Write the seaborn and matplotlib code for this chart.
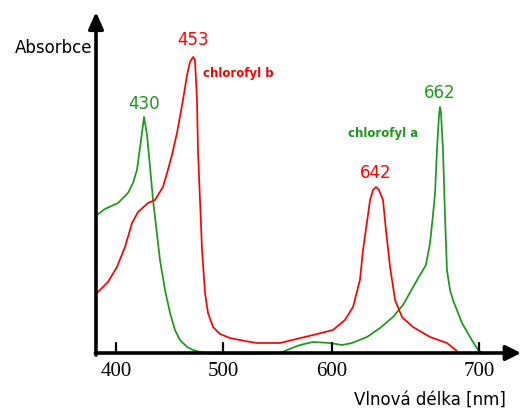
import numpy as np
import pandas as pd
import matplotlib
matplotlib.use("Agg")
import matplotlib.pyplot as plt
import seaborn as sns

# ---------------------------------------------------------------
# data (wavelength in nm, absorbance arb. units)
# ---------------------------------------------------------------
chl_a_nm = [382.2, 389.7, 401.9, 411.2, 415.9, 419.6, 423.4, 426.2, 429, 431.8,
            434.6, 441.1, 445.8, 450.5, 455.1, 459.8, 466.4, 472, 478.5, 487.9,
            524.8, 552.3, 558.7, 570.6, 582.6, 598.2, 606.8, 613.6, 623.8, 632.7,
            641.5, 648.3, 657.1, 663.9, 666.7, 668.7, 670.1, 671.4, 672.8, 673.5,
            674.1, 675.5, 676.9, 678.2, 680.3, 682.3, 688.4, 693.9, 699.3, 703.4]
chl_a_abs = [1.38, 1.44, 1.50, 1.60, 1.70, 1.83, 2.13, 2.36, 2.18, 1.86,
             1.53, 0.93, 0.63, 0.40, 0.23, 0.13, 0.06, 0.03, 0.01, -0.005,
             -0.01, 0.0, 0.03, 0.08, 0.11, 0.10, 0.08, 0.10, 0.16, 0.25,
             0.36, 0.48, 0.71, 0.88, 1.10, 1.38, 1.60, 2.03, 2.38, 2.46,
             2.41, 2.03, 1.36, 0.83, 0.63, 0.53, 0.30, 0.16, 0.03, -0.01]

chl_b_nm = [382.2, 392.5, 400.9, 408.4, 415, 420.6, 429.9, 436.4, 443.9, 447.7,
            452.3, 457, 462.6, 466.4, 469.2, 472, 473.8, 475.7, 476.6, 478.5,
            480.4, 483.2, 486, 490.7, 497.2, 506.4, 520.2, 531.2, 552.3, 582.6,
            600.7, 608.8, 614.3, 619, 621.1, 623.8, 625.9, 627.9, 629.9, 632,
            634.7, 636.7, 639.5, 642.9, 647.6, 655.1, 666.7, 678.2, 685]
chl_b_abs = [0.60, 0.71, 0.86, 1.06, 1.30, 1.41, 1.50, 1.53, 1.66, 1.80,
             1.98, 2.20, 2.53, 2.78, 2.91, 2.96, 2.93, 2.53, 2.03, 1.53,
             1.03, 0.60, 0.40, 0.26, 0.19, 0.15, 0.12, 0.10, 0.10, 0.18,
             0.23, 0.33, 0.46, 0.73, 1.03, 1.31, 1.53, 1.63, 1.66, 1.63,
             1.53, 1.23, 0.86, 0.53, 0.36, 0.26, 0.16, 0.10, 0.02]

tick_nm = [400, 500, 600, 700]
tick_labels = ["400", "500", "600", "700"]

# peak labels
peak_labels = ["430", "453", "642", "662"]
peak_nm = [426.2, 472, 629.9, 673.5]
peak_abs = [2.36, 2.96, 1.66, 2.46]
peak_series = ["a", "b", "b", "a"]

GREEN = "#1a991a"
RED = "#ff0000"
colors = {"a": GREEN, "b": RED}

# the original x axis is not evenly spaced -> piecewise linear scale
knots_nm = np.array([280, 400, 500, 600, 700, 760], dtype=float)
knots_px = np.array([-12.4, 116, 223, 332, 479, 567.2])

def fwd(v):
    return np.interp(v, knots_nm, knots_px)

def inv(v):
    return np.interp(v, knots_px, knots_nm)

df = pd.concat([
    pd.DataFrame({"nm": chl_a_nm, "A": chl_a_abs, "s": "a"}),
    pd.DataFrame({"nm": chl_b_nm, "A": chl_b_abs, "s": "b"}),
])

sns.set_style("white")
fig = plt.figure(figsize=(5.21, 4.12), dpi=100)
ax = fig.add_axes([0, 0, 1, 1])
ax.set_xscale("function", functions=(fwd, inv))

sns.lineplot(data=df, x="nm", y="A", hue="s", palette=colors, sort=False,
             estimator=None, linewidth=1.25, legend=False, ax=ax, zorder=2,
             solid_joinstyle="round")

ax.set_xlim(inv(0), inv(521))
ax.set_ylim(-0.59, 3.53)
ax.axis("off")

# axes with arrows
y_axis_x = inv(96)
ax.annotate("", xy=(inv(521), 0), xytext=(y_axis_x - 0.6, 0),
            arrowprops=dict(arrowstyle="-|>,head_length=0.9,head_width=0.45",
                            color="black", lw=2.6, shrinkA=0, shrinkB=0), zorder=5)
ax.annotate("", xy=(y_axis_x, 3.41), xytext=(y_axis_x, -0.02),
            arrowprops=dict(arrowstyle="-|>,head_length=1.0,head_width=0.45",
                            color="black", lw=2.6, shrinkA=0, shrinkB=0), zorder=5)

# ticks
for t, lab in zip(tick_nm, tick_labels):
    ax.plot([t, t], [0, 0.10], color="black", lw=1.6, zorder=5)
    ax.text(t, -0.19, lab, ha="center", va="center",
            fontfamily="Liberation Serif", fontsize=15, color="black")

# peak labels
offsets = [13, 17, 14, 14]
for lab, xn, ya, s, off in zip(peak_labels, peak_nm, peak_abs, peak_series, offsets):
    ax.annotate(lab, xy=(xn, ya), xytext=(0, off), textcoords="offset pixels",
                ha="center", va="center", fontsize=12, color=colors[s])

ax.text(481.3, 2.80, "chlorofyl b", color=RED, fontsize=8.5, fontweight="bold",
        ha="left", va="center")
ax.text(610.9, 2.20, "chlorofyl a", color=GREEN, fontsize=8.5, fontweight="bold",
        ha="left", va="center")

fig.text(92 / 521, 1 - 48 / 412, "Absorbce", ha="right", va="center",
         fontsize=12, color="black")
fig.text(506 / 521, 1 - 400 / 412, "Vlnová délka [nm]", ha="right", va="center",
         fontsize=12, color="black")

fig.savefig("out.png", dpi=100)
